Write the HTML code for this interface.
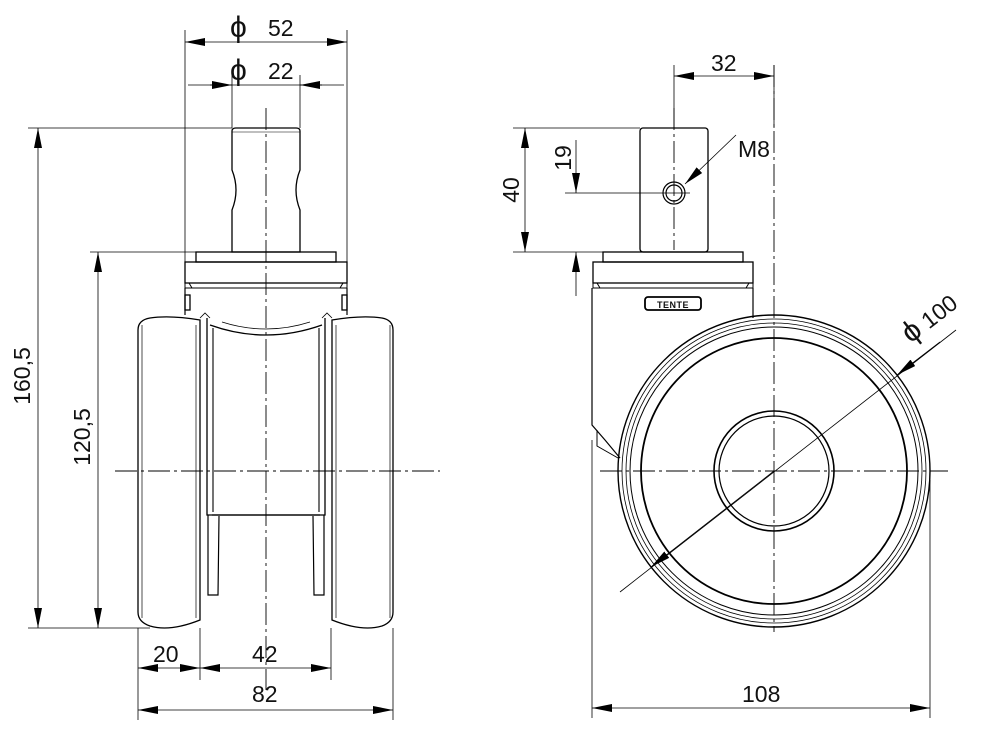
<!DOCTYPE html>
<html><head><meta charset="utf-8"><style>
html,body{margin:0;padding:0;background:#fff}
svg{display:block}
text{font-family:"Liberation Sans",sans-serif;font-size:23px;fill:#111}
.phi{font-size:30px}
</style></head><body>
<svg width="1000" height="736" viewBox="0 0 1000 736" xmlns="http://www.w3.org/2000/svg">
<defs>
<marker id="a" viewBox="0 0 20 8" refX="20" refY="4" markerWidth="20" markerHeight="8" markerUnits="userSpaceOnUse" orient="auto"><path d="M0,0 L20,4 L0,8 z" fill="#000"/></marker>
</defs>
<g fill="none" stroke="#000" stroke-width="1">
<g stroke-dasharray="22,4,3,4" stroke-width="0.9">
<line x1="266" y1="108" x2="266" y2="690"/>
<line x1="115" y1="471" x2="440" y2="471"/>
</g>
<path d="M232,131 Q232,128 236,128 L296,128 Q300,128 300,131 L300,170 Q292,190 300,210 L300,252 L232,252 L232,210 Q240,190 232,170 Z" stroke-width="1.3"/>
<line x1="232" y1="132" x2="300" y2="132" stroke-width="0.6"/>
<rect x="196" y="252" width="140" height="10" stroke-width="1.3"/>
<rect x="185" y="262" width="162" height="21" stroke-width="1.3"/>
<path d="M185,283 L185,288 L347,288 L347,283 M189,283 L192,288 M343,283 L340,288" stroke-width="1"/>
<path d="M185,288 L185,315 M347,288 L347,315" stroke-width="1.2"/>
<rect x="185" y="295" width="5" height="15" stroke-width="1.3"/>
<rect x="342" y="295" width="5" height="15" stroke-width="1.3"/>
<path d="M138,330 Q138,320 150,318 Q170,315 200,320 L200,620 Q170,632 150,626 Q138,622 138,612 Z" stroke-width="1.3"/>
<line x1="142" y1="325" x2="142" y2="618" stroke-width="0.7"/>
<line x1="196" y1="325" x2="196" y2="618" stroke-width="0.7"/>
<path d="M332,320 Q362,315 382,318 Q393,320 393,330 L393,612 Q393,622 382,626 Q362,632 332,620 Z" stroke-width="1.3"/>
<line x1="336" y1="325" x2="336" y2="618" stroke-width="0.7"/>
<line x1="390" y1="325" x2="390" y2="618" stroke-width="0.7"/>
<path d="M207,318 L207,515 L325,515 L325,318" stroke-width="1.3"/>
<path d="M210,325 Q266,345 322,325" stroke-width="1.3"/>
<path d="M222,322 Q266,336 310,322" stroke-width="0.8"/>
<line x1="213" y1="328" x2="213" y2="512" stroke-width="1.1"/>
<line x1="319" y1="328" x2="319" y2="512" stroke-width="1.1"/>
<line x1="212" y1="515" x2="320" y2="515" stroke-width="1.3"/>
<path d="M208,515 L208,595 L218,595 L219,516 M324,515 L324,595 L314,595 L313,516" stroke-width="1.2"/>
<path d="M200,318 L205,313 L210,318 M332,318 L327,313 L322,318" stroke-width="0.8"/>
<line x1="185" y1="30" x2="185" y2="262" stroke-width="0.8"/>
<line x1="347" y1="30" x2="347" y2="262" stroke-width="0.8"/>
<line x1="232" y1="75" x2="232" y2="128" stroke-width="0.8"/>
<line x1="300" y1="75" x2="300" y2="128" stroke-width="0.8"/>
<line x1="188" y1="85" x2="344" y2="85" stroke-width="0.8"/>
<line x1="210" y1="85" x2="232" y2="85" marker-end="url(#a)"/>
<line x1="322" y1="85" x2="300" y2="85" marker-end="url(#a)"/>
<line x1="28" y1="128" x2="232" y2="128" stroke-width="0.8"/>
<line x1="90" y1="252" x2="196" y2="252" stroke-width="0.8"/>
<line x1="28" y1="628" x2="150" y2="628" stroke-width="0.8"/>
<line x1="38" y1="378" x2="38" y2="128" stroke-width="0.8" marker-end="url(#a)"/>
<line x1="38" y1="378" x2="38" y2="628" stroke-width="0.8" marker-end="url(#a)"/>
<line x1="98" y1="440" x2="98" y2="252" stroke-width="0.8" marker-end="url(#a)"/>
<line x1="98" y1="440" x2="98" y2="628" stroke-width="0.8" marker-end="url(#a)"/>
<line x1="138" y1="628" x2="138" y2="720" stroke-width="0.8"/>
<line x1="200" y1="628" x2="200" y2="680" stroke-width="0.8"/>
<line x1="331" y1="628" x2="331" y2="680" stroke-width="0.8"/>
<line x1="393" y1="628" x2="393" y2="720" stroke-width="0.8"/>
<line x1="169" y1="668" x2="138" y2="668" stroke-width="0.8" marker-end="url(#a)"/>
<line x1="169" y1="668" x2="200" y2="668" stroke-width="0.8" marker-end="url(#a)"/>
<line x1="265" y1="668" x2="200" y2="668" stroke-width="0.8" marker-end="url(#a)"/>
<line x1="265" y1="668" x2="331" y2="668" stroke-width="0.8" marker-end="url(#a)"/>
<line x1="265" y1="710" x2="138" y2="710" stroke-width="0.8" marker-end="url(#a)"/>
<line x1="265" y1="710" x2="393" y2="710" stroke-width="0.8" marker-end="url(#a)"/>
<line x1="266" y1="42" x2="185" y2="42" stroke-width="0.8" marker-end="url(#a)"/>
<line x1="266" y1="42" x2="347" y2="42" stroke-width="0.8" marker-end="url(#a)"/>

<g stroke-dasharray="22,4,3,4" stroke-width="0.9">
<line x1="774" y1="65" x2="774" y2="632"/>
<line x1="600" y1="471" x2="948" y2="471"/>
<line x1="674" y1="108" x2="674" y2="250"/>
</g>
<rect x="640" y="128" width="68" height="124" rx="3" stroke-width="1.3"/>
<circle cx="674" cy="193" r="11" stroke-width="1.2"/>
<circle cx="674" cy="193" r="8" stroke-width="1.2"/>
<rect x="603" y="252" width="140" height="10" stroke-width="1.3"/>
<rect x="593" y="262" width="160" height="21" stroke-width="1.3"/>
<path d="M593,283 L593,288 L753,288 L753,283 M597,283 L600,288 M749,283 L746,288"/>
<path d="M592,288 L592,425 L605,440 L620,458 M753,288 L753,318" stroke-width="1.2"/>
<path d="M597,430 L597,446 L618,458" stroke-width="1"/>
<rect x="645" y="297" width="56" height="13" rx="3" stroke-width="1.8"/>
<circle cx="774" cy="471" r="156" stroke-width="1.4"/>
<circle cx="774" cy="471" r="152" stroke-width="0.8"/>
<circle cx="774" cy="471" r="148" stroke-width="0.8"/>
<circle cx="774" cy="471" r="144" stroke-width="1"/>
<circle cx="774" cy="471" r="133" stroke-width="1.8"/>
<circle cx="774" cy="471" r="60" stroke-width="1.6"/>
<circle cx="774" cy="471" r="55" stroke-width="1.2"/>
<line x1="674" y1="65" x2="674" y2="128" stroke-width="0.8"/>
<line x1="774" y1="65" x2="774" y2="128" stroke-width="0.8"/>
<line x1="724" y1="76" x2="674" y2="76" stroke-width="0.8" marker-end="url(#a)"/>
<line x1="724" y1="76" x2="774" y2="76" stroke-width="0.8" marker-end="url(#a)"/>
<line x1="513" y1="128" x2="640" y2="128" stroke-width="0.8"/>
<line x1="565" y1="193" x2="690" y2="193" stroke-width="0.8"/>
<line x1="513" y1="252" x2="603" y2="252" stroke-width="0.8"/>
<line x1="525" y1="190" x2="525" y2="128" stroke-width="0.8" marker-end="url(#a)"/>
<line x1="525" y1="190" x2="525" y2="252" stroke-width="0.8" marker-end="url(#a)"/>
<line x1="576" y1="140" x2="576" y2="193" stroke-width="0.8" marker-end="url(#a)"/>
<line x1="576" y1="296" x2="576" y2="252" stroke-width="0.8" marker-end="url(#a)"/>
<line x1="736" y1="135" x2="685" y2="184" stroke-width="0.8" marker-end="url(#a)"/>
<line x1="620" y1="592" x2="956" y2="330" stroke-width="0.8"/>
<line x1="774" y1="471" x2="651" y2="567" stroke-width="0.8" marker-end="url(#a)"/>
<line x1="940" y1="342" x2="897" y2="375" stroke-width="0.8" marker-end="url(#a)"/>
<line x1="592" y1="440" x2="592" y2="718" stroke-width="0.8"/>
<line x1="930" y1="480" x2="930" y2="718" stroke-width="0.8"/>
<line x1="761" y1="708" x2="592" y2="708" stroke-width="0.8" marker-end="url(#a)"/>
<line x1="761" y1="708" x2="930" y2="708" stroke-width="0.8" marker-end="url(#a)"/>
</g>
<text x="230" y="37" class="phi">ϕ</text><text x="268" y="36">52</text>
<text x="230" y="80" class="phi">ϕ</text><text x="268" y="79">22</text>
<text x="153" y="662">20</text>
<text x="252" y="662">42</text>
<text x="252" y="702">82</text>
<text x="30" y="376" transform="rotate(-90 30 376)" text-anchor="middle">160,5</text>
<text x="90" y="437" transform="rotate(-90 90 437)" text-anchor="middle">120,5</text>
<text x="711" y="71">32</text>
<text x="738" y="157">M8</text>
<text x="519" y="190" transform="rotate(-90 519 190)" text-anchor="middle">40</text>
<text x="571" y="158" transform="rotate(-90 571 158)" text-anchor="middle">19</text>
<text x="742" y="702">108</text>
<text x="935" y="325" transform="rotate(-38 935 325)" text-anchor="middle"><tspan class="phi">ϕ</tspan> 100</text>
<text x="673" y="308" text-anchor="middle" style="font-size:9px;font-weight:bold;letter-spacing:0.5px">TENTE</text>
</svg>
</body></html>
